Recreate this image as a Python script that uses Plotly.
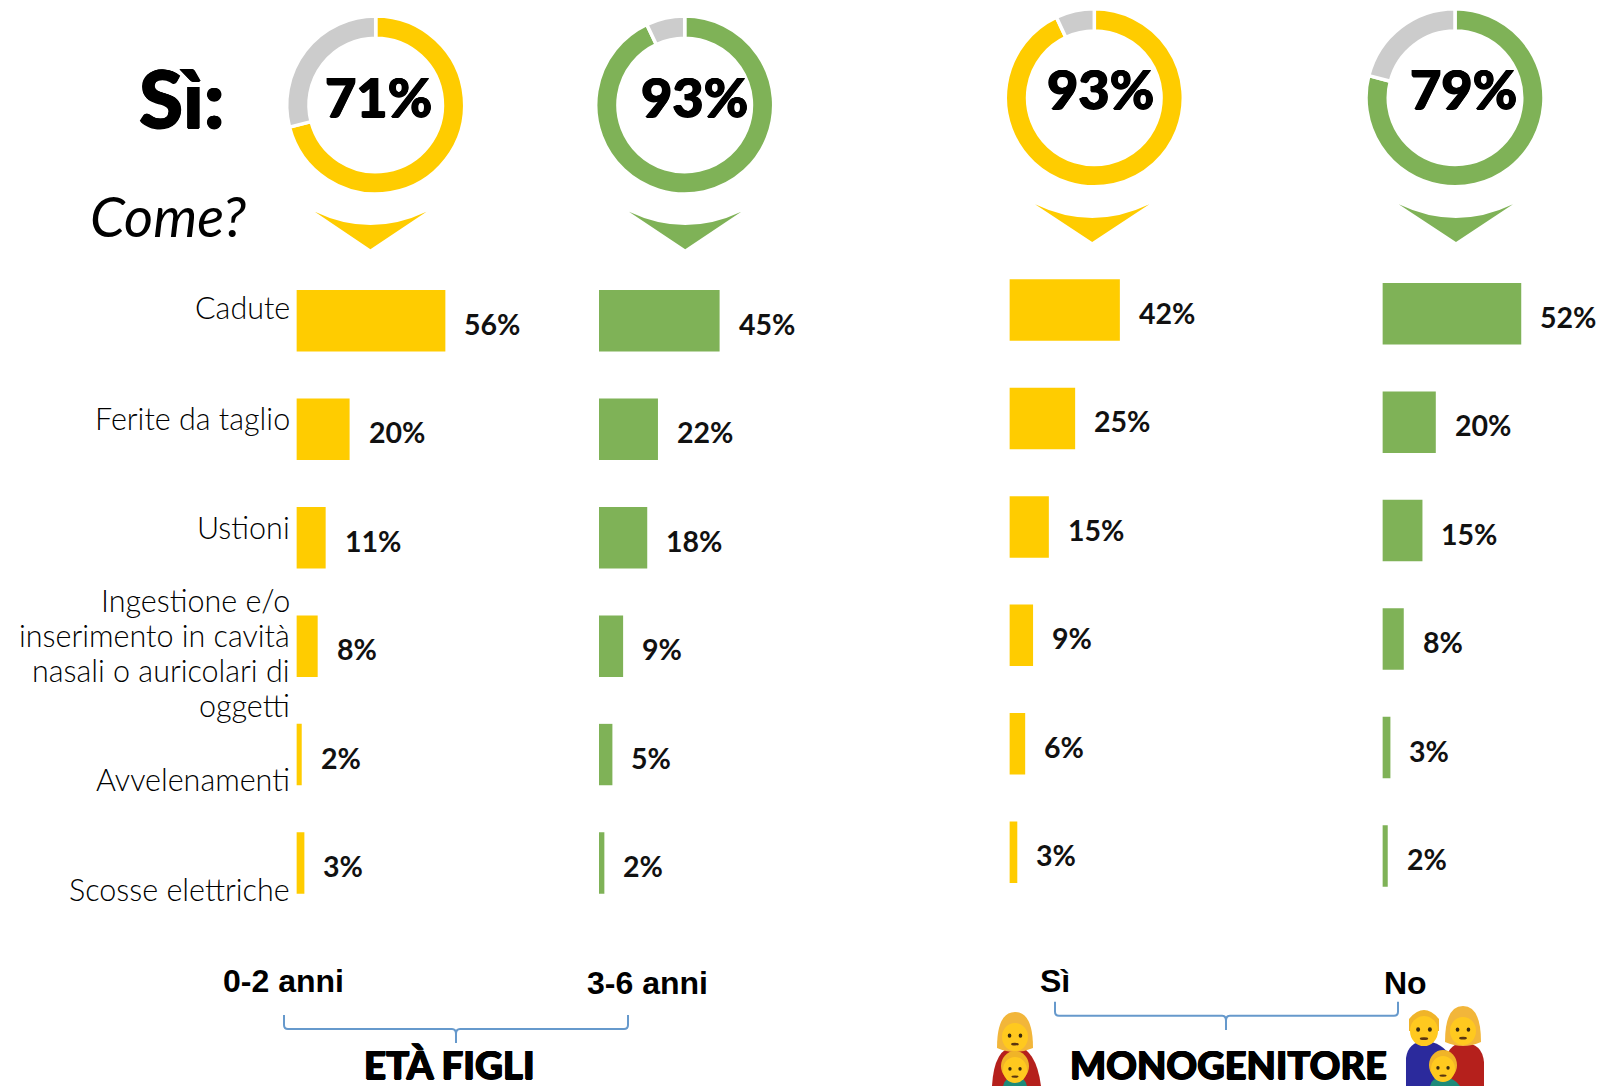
import plotly.graph_objects as go

W, H = 1602, 1086
YELLOW, GREEN, GREY = "#FFCC00", "#7FB257", "#CCCCCC"
BRACE = "#6699CC"
HEAVY = "Lato Black, Lato"
OUTLINE = "0.7px 0 0 black, -0.7px 0 0 black, 0 0.5px 0 black, 0 -0.5px 0 black"

categories = ["Cadute", "Ferite da taglio", "Ustioni",
              "Ingestione e/o<br>inserimento in cavità<br>nasali o auricolari di<br>oggetti",
              "Avvelenamenti", "Scosse elettriche"]
cat_keys = ["Cadute", "Ferite", "Ustioni", "Ingestione", "Avvelenamenti", "Scosse"]

age_0_2 = [56, 20, 11, 8, 2, 3]
age_3_6 = [45, 22, 18, 9, 5, 2]
mono_si = [42, 25, 15, 9, 6, 3]
mono_no = [52, 20, 15, 8, 3, 2]
donut_values = [71, 93, 93, 79]
group_labels = ["0-2 anni", "3-6 anni", "Sì", "No"]

series = [age_0_2, age_3_6, mono_si, mono_no]
colors = [YELLOW, GREEN, YELLOW, GREEN]
x0_px = [296.4, 599, 1009.4, 1382.4]
px_per = [2.66, 2.68, 2.63, 2.67]
row_c0 = [320.8, 320.8, 310, 313.7]
PITCH = 108.45
donut_c = [(375.7, 105), (684.7, 105), (1094.3, 97.8), (1455, 97.8)]
donut_text_x = [378, 694, 1100, 1463]
R = 89


def px(x):
    return x / W


def py(y):
    return 1 - y / H


fig = go.Figure()
annots = []

# bar panels
for i, vals in enumerate(series):
    n = "" if i == 0 else str(i + 1)
    width_px = 62 * px_per[i]
    top = row_c0[i] - PITCH / 2
    fig.add_trace(go.Bar(x=vals, y=cat_keys, orientation="h", marker=dict(color=colors[i], line_width=0),
                         xaxis="x" + n, yaxis="y" + n, width=0.567, showlegend=False, hoverinfo="skip"))
    fig.layout["xaxis" + n] = dict(domain=[px(x0_px[i]), px(x0_px[i] + width_px)], range=[0, 62], visible=False,
                                   anchor="y" + n, fixedrange=True)
    fig.layout["yaxis" + n] = dict(domain=[py(top + 6 * PITCH), py(top)], visible=False, anchor="x" + n,
                                   type="category", categoryorder="array", categoryarray=cat_keys,
                                   autorange="reversed", fixedrange=True)
    for k, v in zip(cat_keys, vals):
        annots.append(dict(x=v, y=k, xref="x" + n, yref="y" + n, text=f"<b>{v}%</b>", showarrow=False,
                           xanchor="left", yanchor="middle", xshift=17, yshift=-3,
                           font=dict(family="Lato", size=28.5, color="#111111")))

# donuts
for (cx, cy), v, c, tx in zip(donut_c, donut_values, colors, donut_text_x):
    fig.add_trace(go.Pie(values=[v, 100 - v], hole=0.75, sort=False, direction="clockwise", rotation=0,
                         marker=dict(colors=[c, GREY], line=dict(color="white", width=3.5)),
                         textinfo="none", hoverinfo="skip", showlegend=False,
                         domain=dict(x=[px(cx - R), px(cx + R)], y=[py(cy + R), py(cy - R)])))
    annots.append(dict(x=px(tx), y=py(cy - 9), xref="paper", yref="paper", text=f"{v}%", showarrow=False,
                       xanchor="center", yanchor="middle",
                       font=dict(family=HEAVY, size=54, color="black", shadow=OUTLINE)))


def txt(x, y, s, **f):
    anchor = f.pop("xanchor", "center")
    annots.append(dict(x=px(x), y=py(y), xref="paper", yref="paper", text=s, showarrow=False,
                       xanchor=anchor, yanchor="middle", align="right" if anchor == "right" else "center", font=f))


txt(182, 97, "Sì:", family=HEAVY, size=80, color="black", shadow=OUTLINE)
txt(168, 215, "<i>Come?</i>", family="Lato", size=56, color="black", weight=400)

# category labels, line by line
cat_y = [307, 417.5, 527, 652, 779, 889]
LINE_H = 35
for c, y in zip(categories, cat_y):
    lines = c.split("<br>")
    for j, line in enumerate(lines):
        txt(291.5, y + (j - (len(lines) - 1) / 2) * LINE_H, line,
            family="Lato", size=30.5, color="black", weight=300, xanchor="right")

# group labels
for s, x, y in zip(group_labels, [283, 647, 1055.4, 1405], [981, 983, 981, 983]):
    txt(x, y, f"<b>{s}</b>", family="Liberation Sans", size=32, color="black")
txt(449.5, 1064, "ETÀ FIGLI", family=HEAVY, size=38.5, color="black", shadow=OUTLINE)
txt(1228, 1064, "MONOGENITORE", family=HEAVY, size=38, color="black", shadow=OUTLINE)

shapes = []


def path(d, fill=None, line=None, lw=0):
    shapes.append(dict(type="path", path=d, xref="paper", yref="paper", fillcolor=fill or "rgba(0,0,0,0)",
                       line=dict(color=line or "rgba(0,0,0,0)", width=lw)))


def P(x, y):
    return f"{px(x):.5f},{py(y):.5f}"


def circ(cx, cy, rx, ry, fill):
    shapes.append(dict(type="circle", xref="paper", yref="paper", x0=px(cx - rx), x1=px(cx + rx),
                       y0=py(cy + ry), y1=py(cy - ry), fillcolor=fill, line_width=0))


# chevrons
for xl, xr, xc, yt, dip, yb, col in [(314.8, 426.5, 370.4, 211.7, 225, 249.3, YELLOW),
                                     (629, 741.3, 685.2, 211.7, 225, 249.3, GREEN),
                                     (1035, 1149.4, 1092.2, 204.3, 218, 242, YELLOW),
                                     (1398.7, 1513, 1456, 204.3, 218, 242, GREEN)]:
    ctrl = 2 * dip - yt
    path(f"M {P(xl, yt)} Q {P(xc, ctrl)} {P(xr, yt)} L {P(xc, yb)} Z", fill=col)


# braces
def brace(l, r, c, t, b, tip):
    path(f"M {P(l, t)} L {P(l, b - 4)} Q {P(l, b)} {P(l + 4, b)} L {P(c - 4, b)} Q {P(c, b)} {P(c, b + 5)} L {P(c, tip)} "
         f"M {P(c, b + 5)} Q {P(c, b)} {P(c + 4, b)} L {P(r - 4, b)} Q {P(r, b)} {P(r, b - 4)} L {P(r, t)}",
         line=BRACE, lw=2)


brace(284, 628, 456, 1015, 1029, 1043)
brace(1055, 1398, 1226, 1001.7, 1015.7, 1030)

# family icons
SKIN, HAIR, RED, BLUE, TEAL = "#FFC91F", "#F2B63A", "#B5201C", "#2B2A9C", "#1E8A7A"


def face(cx, cy, r):
    circ(cx, cy, r, r * 1.08, SKIN)
    circ(cx - r * .42, cy - r * .1, r * .14, r * .16, "#3A2A10")
    circ(cx + r * .42, cy - r * .1, r * .14, r * .16, "#3A2A10")
    circ(cx, cy + r * .55, r * .3, r * .1, "#5A3510")


def woman(cx, cy, hw):
    path(f"M {P(cx - hw, cy + 14)} Q {P(cx - hw, cy - 22)} {P(cx, cy - 22)} Q {P(cx + hw, cy - 22)} {P(cx + hw, cy + 14)} "
         f"Q {P(cx, cy + 22)} {P(cx - hw, cy + 14)} Z", fill=HAIR)
    face(cx, cy + 3, 13)


def man(cx, cy, r):
    path(f"M {P(cx - r - 1, cy + 2)} L {P(cx - r - 1, cy - 10)} Q {P(cx, cy - 28)} {P(cx + r + 1, cy - 10)} L {P(cx + r + 1, cy + 2)} Z", fill="#F0B428")
    face(cx, cy + 2, r)


def boy(cx, cy, r):
    circ(cx, cy - 2, r + 1, r + 2, "#F0B428")
    face(cx, cy + 2, r - 1)


# single mother
path(f"M {P(992, 1086)} Q {P(994, 1048)} {P(1015, 1046)} Q {P(1036, 1048)} {P(1041, 1086)} Z", fill=RED)
woman(1015, 1034, 18)
path(f"M {P(1003, 1086)} Q {P(1004, 1078)} {P(1015, 1077)} Q {P(1026, 1078)} {P(1027, 1086)} Z", fill=TEAL)
boy(1015, 1068, 13)

# family
path(f"M {P(1406, 1086)} L {P(1406, 1058)} Q {P(1408, 1042)} {P(1425, 1041)} Q {P(1442, 1042)} {P(1452, 1058)} L {P(1452, 1086)} Z", fill=BLUE)
path(f"M {P(1446, 1086)} L {P(1446, 1058)} Q {P(1450, 1043)} {P(1464, 1043)} Q {P(1482, 1043)} {P(1484, 1062)} L {P(1484, 1086)} Z", fill=RED)
man(1424, 1029, 14)
woman(1463, 1028, 18)
path(f"M {P(1430, 1086)} Q {P(1431, 1078)} {P(1443, 1077)} Q {P(1455, 1078)} {P(1460, 1086)} Z", fill=TEAL)
boy(1443, 1067, 13)

fig.update_layout(width=W, height=H, margin=dict(l=0, r=0, t=0, b=0, pad=0), paper_bgcolor="white",
                  plot_bgcolor="white", barmode="overlay", annotations=annots, shapes=shapes, showlegend=False)
fig.write_html("out.html", config={"displayModeBar": False}, post_script="document.body.style.margin='0';")
